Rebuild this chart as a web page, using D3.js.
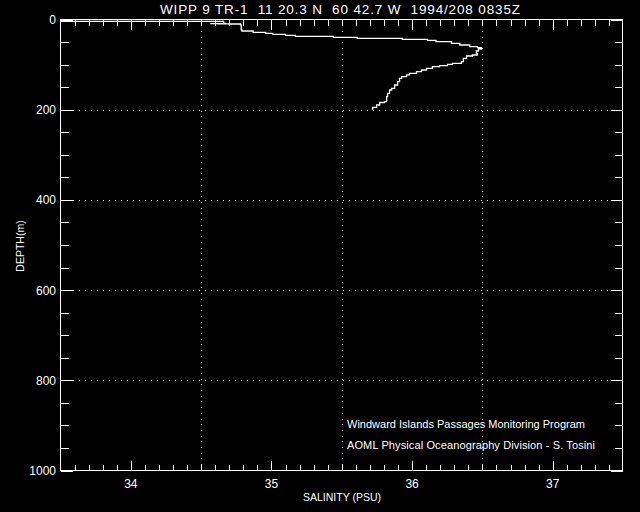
<!DOCTYPE html>
<html><head><meta charset="utf-8">
<script src="https://cdn.jsdelivr.net/npm/d3@7"></script>
<style>
html,body{margin:0;padding:0;background:#000;}
svg{display:block;}
text{fill:#fff;font-family:"Liberation Sans",Arial,sans-serif;white-space:pre;}
</style></head>
<body>
<svg id="c" width="640" height="512"></svg>
<script>
const title = "WIPP 9 TR-1  11 20.3 N  60 42.7 W  1994/208 0835Z";
const xLabel = "SALINITY (PSU)";
const yLabel = "DEPTH(m)";
const notes = ["Windward Islands Passages Monitoring Program",
               "AOML Physical Oceanography Division - S. Tosini"];
const xTicks = [34, 35, 36, 37];
const xGrid = [34.5, 35.5, 36.5];
const yTicks = [0, 200, 400, 600, 800, 1000];
const yGrid = [200, 400, 600, 800];

const salinity = [33.50, 34.66, 34.67, 34.57, 34.62, 34.70, 34.78, 34.785, 34.79,
  34.87, 34.96, 35.01, 35.10, 35.17, 35.44, 35.61, 35.77, 35.93, 36.11, 36.17,
  36.28, 36.34, 36.41, 36.465, 36.493, 36.472, 36.457, 36.465, 36.429, 36.387,
  36.365, 36.351, 36.287, 36.252, 36.195, 36.145, 36.103, 36.067, 36.032, 35.982,
  35.961, 35.926, 35.911, 35.897, 35.876, 35.855, 35.840, 35.826, 35.819, 35.805,
  35.770, 35.748, 35.720, 35.713];
const depth = [4, 4.2, 8.5, 9, 9.3, 9.6, 10, 12, 23,
  25.5, 28.4, 30.6, 32.8, 35, 37.3, 39.5, 41.7, 41.7, 43.9, 46.1,
  49.2, 52.8, 56.5, 60.3, 62.5, 65.4, 69.8, 74.9, 78.7, 80.9,
  86, 93.6, 97.1, 99.3, 102.4, 104.7, 108.2, 112, 115.7, 119.3,
  123, 126.8, 130.4, 137.9, 145.2, 152.5, 156.3, 163.6, 171.2, 182.3,
  184, 189.6, 194.7, 198.4];

const L = 60.5, R = 622.5, T = 19.5, B = 470.5;
const x = d3.scaleLinear().domain([33.5, 37.5]).range([L, R + 0.5]);
const y = d3.scaleLinear().domain([0, 1000]).range([T, B]);
const svg = d3.select("#c");

function styleAxis(g){ g.select(".domain").remove(); g.selectAll("line").attr("stroke","#fff").attr("shape-rendering","crispEdges"); g.selectAll("text").remove(); }

// grid
svg.append("g").selectAll("line").data(xGrid).join("line")
  .attr("x1", d => Math.round(x(d)) + 0.5).attr("x2", d => Math.round(x(d)) + 0.5)
  .attr("y1", T).attr("y2", B)
  .attr("stroke", "#fff").attr("stroke-dasharray", "1,4.7").attr("shape-rendering","crispEdges");
svg.append("g").selectAll("line").data(yGrid).join("line")
  .attr("y1", d => Math.round(y(d)) + 0.5).attr("y2", d => Math.round(y(d)) + 0.5)
  .attr("x1", L).attr("x2", R)
  .attr("stroke", "#fff").attr("stroke-dasharray", "1.3,4.7").attr("shape-rendering","crispEdges");

// minor ticks
const xMinor = d3.range(33.6, 37.45, 0.1);
const yMinor = d3.range(50, 1000, 50).filter(v => v % 200 !== 0);
svg.append("g").attr("transform",`translate(0,${B})`).call(d3.axisBottom(x).tickValues(xMinor).tickSize(-6)).call(styleAxis);
svg.append("g").attr("transform",`translate(0,${T})`).call(d3.axisTop(x).tickValues(xMinor).tickSize(-6)).call(styleAxis);
svg.append("g").attr("transform",`translate(${L},0)`).call(d3.axisLeft(y).tickValues(yMinor).tickSize(-8)).call(styleAxis);
svg.append("g").attr("transform",`translate(${R},0)`).call(d3.axisRight(y).tickValues(yMinor).tickSize(-8)).call(styleAxis);
// major ticks
svg.append("g").attr("transform",`translate(0,${B})`).call(d3.axisBottom(x).tickValues(xTicks).tickSize(-10)).call(styleAxis);
svg.append("g").attr("transform",`translate(0,${T})`).call(d3.axisTop(x).tickValues(xTicks).tickSize(-10)).call(styleAxis);
svg.append("g").attr("transform",`translate(${L},0)`).call(d3.axisLeft(y).tickValues(yTicks).tickSize(-12)).call(styleAxis);
svg.append("g").attr("transform",`translate(${R},0)`).call(d3.axisRight(y).tickValues(yTicks).tickSize(-12)).call(styleAxis);

// frame
svg.append("rect").attr("x", L).attr("y", T).attr("width", R - L).attr("height", B - T)
  .attr("fill","none").attr("stroke","#fff").attr("shape-rendering","crispEdges");

// tick labels
svg.append("g").selectAll("text").data(xTicks).join("text")
  .attr("x", d => x(d)).attr("y", 488).attr("text-anchor","middle")
  .attr("font-size", 12).text(d => d);
svg.append("g").selectAll("text").data(yTicks).join("text")
  .attr("x", 56).attr("y", d => y(d) + 4.5).attr("text-anchor","end")
  .attr("font-size", 12).text(d => d);

// labels
svg.append("text").attr("x", 160).attr("y", 14)
  .attr("font-size", 13.5).attr("textLength", 360).attr("lengthAdjust","spacing").text(title);
svg.append("text").attr("x", 342).attr("y", 501).attr("text-anchor","middle")
  .attr("font-size", 10.5).text(xLabel);
svg.append("text").attr("transform","translate(24,246) rotate(-90)").attr("text-anchor","middle")
  .attr("font-size", 10.5).text(yLabel);
const noteLen = [238, 248];
svg.append("g").selectAll("text").data(notes).join("text")
  .attr("x", 347).attr("y", (d, i) => 428 + i * 21)
  .attr("font-size", 11).attr("textLength", (d, i) => noteLen[i]).attr("lengthAdjust","spacing")
  .text(d => d);

// profile
const pts = salinity.map((s, i) => [s, depth[i]]);
svg.append("path").datum(pts)
  .attr("d", d3.line().x(d => x(d[0])).y(d => y(d[1])).curve(d3.curveStepBefore))
  .attr("fill","none").attr("stroke","#fff").attr("stroke-width", 1.3);
</script>
</body></html>
